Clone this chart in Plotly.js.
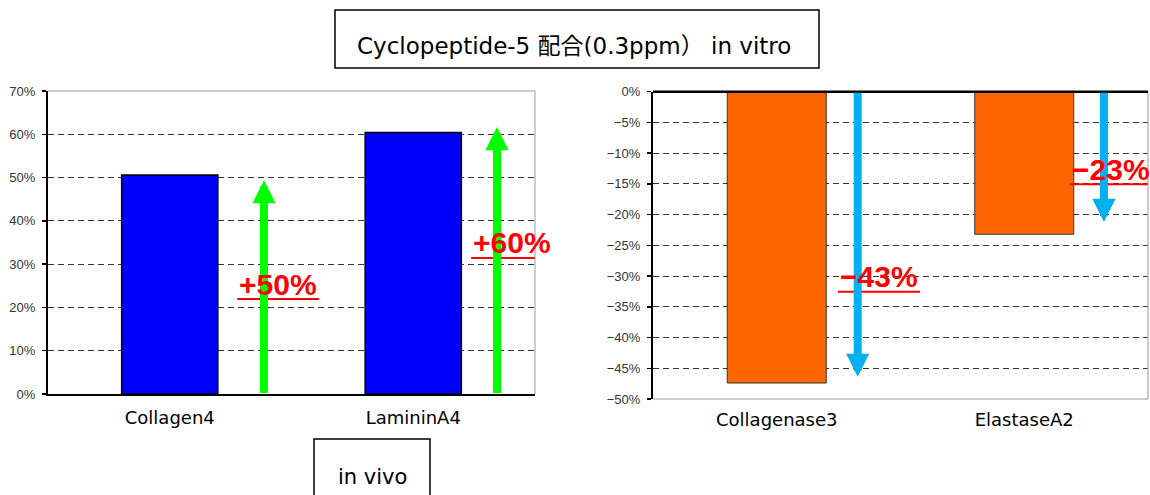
<!DOCTYPE html>
<html>
<head>
<meta charset="utf-8">
<script src="https://cdn.plot.ly/plotly-3.0.1.min.js"></script>
<style>html,body{margin:0;padding:0;background:#fff;}#chart{width:1150px;height:495px;}</style>
</head>
<body>
<div id="chart"></div>
<script>
// ---- data ----
const leftCategories = ['Collagen4', 'LamininA4'];
const leftValues = [50.6, 60.4];           // in vivo increase (%)
const leftLabels = ['+50%', '+60%'];
const leftArrowTips = [49.4, 61.7];
const leftLabelY = [25.4, 34.9];

const rightCategories = ['Collagenase3', 'ElastaseA2'];
const rightValues = [-47.4, -23.2];        // in vitro decrease (%)
const rightLabels = ['\u221243%', '\u221223%'];
const rightArrowTips = [-46.4, -21.2];
const rightLabelY = [-30.1, -12.6];

const titleText = 'Cyclopeptide-5 配合(0.3ppm） in vitro';
const subText = 'in vivo';

// ---- layout helpers ----
const W = 1150, H = 495;
const leftArrowOffset = [0.387, 0.344];
const leftLabelOffset = [0.445, 0.406];
const rightArrowOffset = [0.327, 0.322];
const rightLabelOffset = [0.413, 0.35];

const idx = a => a.map((_, i) => i);
const font = 'Liberation Sans, Arial, sans-serif';
const wideFont = 'DejaVu Sans, Noto Sans CJK JP, sans-serif';

const traces = [
  {type: 'bar', x: idx(leftCategories), y: leftValues, xaxis: 'x', yaxis: 'y', width: 0.395,
   marker: {color: '#0000FF', line: {color: '#000', width: 1.5}}, hoverinfo: 'skip'},
  {type: 'bar', x: idx(rightCategories), y: rightValues, xaxis: 'x2', yaxis: 'y2', width: 0.4,
   marker: {color: '#FF6600', line: {color: '#333', width: 1}}, hoverinfo: 'skip'}
];

const annotations = [];
const shapes = [];

function addArrow(xr, yr, x, base, tip, color) {
  annotations.push({xref: xr, yref: yr, axref: xr, ayref: yr, x: x, y: tip, ax: x, ay: base,
    text: ' ', font: {size: 1}, borderpad: 0, showarrow: true, arrowhead: 2, arrowsize: 0.58,
    arrowwidth: 8, arrowcolor: color, standoff: 0, startstandoff: 0});
}
function addLabel(xr, yr, x, y, txt) {
  annotations.push({xref: xr, yref: yr, x: x, y: y, text: '<b>' + txt + '</b>', showarrow: false,
    font: {family: font, size: 30, color: '#FF0000'}, xanchor: 'center', yanchor: 'middle'});
  shapes.push({type: 'line', xref: xr, yref: yr, xsizemode: 'pixel', ysizemode: 'pixel',
    xanchor: x, yanchor: y, x0: -41, x1: 41, y0: -15, y1: -15, line: {color: '#FF0000', width: 2}, layer: 'above'});
}

leftValues.forEach((v, i) => {
  addArrow('x', 'y', i + leftArrowOffset[i], 0, leftArrowTips[i], '#00FF00');
});
rightValues.forEach((v, i) => {
  addArrow('x2', 'y2', i + rightArrowOffset[i], 0, rightArrowTips[i], '#00B0F0');
});
leftLabels.forEach((t, i) => addLabel('x', 'y', i + leftLabelOffset[i], leftLabelY[i], t));
rightLabels.forEach((t, i) => addLabel('x2', 'y2', i + rightLabelOffset[i], rightLabelY[i], t));

// plot borders
shapes.push({type: 'line', xref: 'x domain', yref: 'y domain', x0: 0, x1: 1, y0: 1, y1: 1, line: {color: '#999', width: 1}, layer: 'above'});
shapes.push({type: 'line', xref: 'x domain', yref: 'y domain', x0: 1, x1: 1, y0: 0, y1: 1, line: {color: '#999', width: 1}, layer: 'above'});
shapes.push({type: 'line', xref: 'x2 domain', yref: 'y2 domain', x0: 0, x1: 1, y0: 0, y1: 0, line: {color: '#999', width: 1}, layer: 'above'});
shapes.push({type: 'line', xref: 'x2 domain', yref: 'y2 domain', x0: 1, x1: 1, y0: 0, y1: 1, line: {color: '#999', width: 1}, layer: 'above'});
shapes.push({type: 'line', xref: 'x2 domain', yref: 'y2 domain', x0: 0, x1: 1, y0: 1, y1: 1, line: {color: '#000', width: 2.5}, layer: 'above'});

// text boxes
shapes.push({type: 'rect', xref: 'paper', yref: 'paper', x0: 335 / W, x1: 819 / W, y0: (H - 68) / H, y1: (H - 10) / H,
  line: {color: '#000', width: 1.5}, fillcolor: 'rgba(0,0,0,0)'});
shapes.push({type: 'rect', xref: 'paper', yref: 'paper', x0: 314 / W, x1: 430 / W, y0: -0.2, y1: (H - 439) / H,
  line: {color: '#000', width: 1.5}, fillcolor: 'rgba(0,0,0,0)'});
annotations.push({xref: 'paper', yref: 'paper', x: 574 / W, y: (H - 46) / H, text: titleText, showarrow: false,
  font: {family: wideFont, size: 23, color: '#000'}, xanchor: 'center', yanchor: 'middle'});
annotations.push({xref: 'paper', yref: 'paper', x: 372 / W, y: (H - 477) / H, text: subText, showarrow: false,
  font: {family: wideFont, size: 21, color: '#000'}, xanchor: 'center', yanchor: 'middle'});

const gridCommon = {showgrid: true, gridcolor: '#333', gridwidth: 1, griddash: '6px,4px'};
const yTickFont = {family: font, size: 13, color: '#333'};
const xTickFont = {family: wideFont, size: 18, color: '#000'};

const layout = {
  width: W, height: H,
  margin: {l: 0, r: 0, t: 0, b: 0},
  paper_bgcolor: '#fff', plot_bgcolor: '#fff',
  showlegend: false,
  xaxis: {domain: [48 / W, 535 / W], range: [-0.5, 1.5], tickvals: idx(leftCategories), ticktext: leftCategories,
    showgrid: false, zeroline: false, showline: true, linecolor: '#000', linewidth: 2, ticks: '',
    tickfont: xTickFont, ticklabelstandoff: 6, fixedrange: true},
  yaxis: Object.assign({domain: [(H - 394) / H, (H - 91) / H], range: [0, 70], dtick: 10, ticksuffix: '%',
    zeroline: false, showline: true, linecolor: '#000', linewidth: 2, ticks: 'outside', ticklen: 4,
    tickcolor: '#000', tickwidth: 1.5, tickfont: yTickFont, ticklabelstandoff: 4, fixedrange: true}, gridCommon),
  xaxis2: {domain: [653 / W, 1148 / W], range: [-0.5, 1.5], tickvals: idx(rightCategories), ticktext: rightCategories,
    anchor: 'y2', showgrid: false, zeroline: false, showline: false, ticks: '',
    tickfont: xTickFont, ticklabelstandoff: 8, fixedrange: true},
  yaxis2: Object.assign({domain: [(H - 399) / H, (H - 91.7) / H], range: [-50, 0], dtick: 5, ticksuffix: '%',
    anchor: 'x2', zeroline: false, showline: true, linecolor: '#000', linewidth: 2, ticks: 'outside', ticklen: 4,
    tickcolor: '#000', tickwidth: 1.5, tickfont: yTickFont, ticklabelstandoff: 4, fixedrange: true}, gridCommon),
  annotations: annotations,
  shapes: shapes
};

Plotly.newPlot('chart', traces, layout, {displayModeBar: false, staticPlot: true});
</script>
</body>
</html>
